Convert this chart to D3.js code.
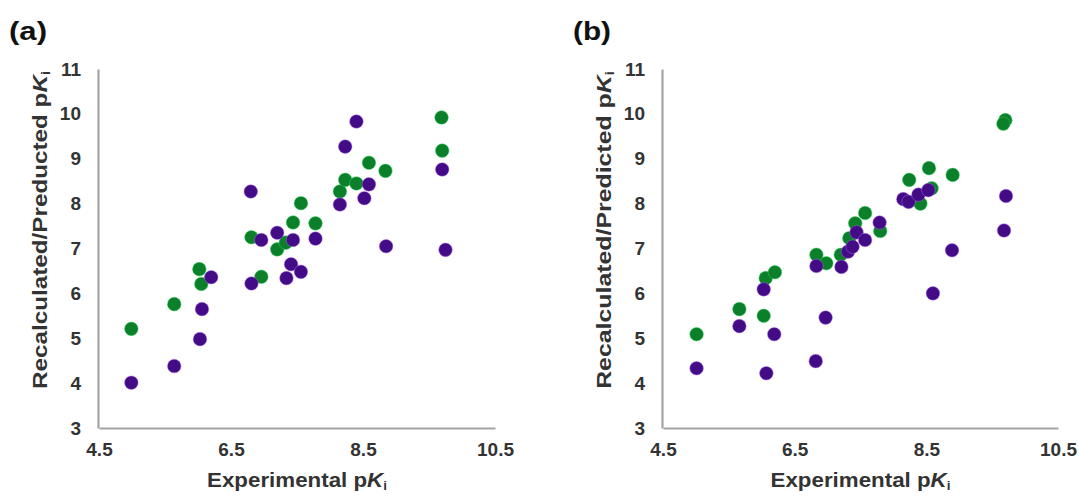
<!DOCTYPE html>
<html>
<head>
<meta charset="utf-8">
<script src="https://cdn.jsdelivr.net/npm/d3@7"></script>
<style>
  html, body { margin: 0; padding: 0; background: #fff; }
  svg { display: block; font-family: "Liberation Sans", Arial, sans-serif; }
</style>
</head>
<body>
<svg id="chart" width="1079" height="496"></svg>
<script>
// ---- data (Experimental pKi, Recalculated/Predicted pKi) ----
const xTicks = [4.5, 6.5, 8.5, 10.5];
const yTicks = [3, 4, 5, 6, 7, 8, 9, 10, 11];

const panelA_green = [
  [4.99, 5.21], [5.64, 5.76], [6.02, 6.54], [6.05, 6.21], [6.96, 6.37],
  [6.81, 7.25], [7.20, 6.98], [7.33, 7.13], [7.44, 7.58], [7.56, 8.01],
  [7.78, 7.56], [8.15, 8.27], [8.23, 8.53], [8.40, 8.45], [8.59, 8.91],
  [8.84, 8.73], [9.69, 9.92], [9.70, 9.18]
];
const panelA_purple = [
  [4.99, 4.01], [5.64, 4.38], [6.03, 4.98], [6.06, 5.65], [6.20, 6.36],
  [6.80, 8.27], [6.81, 6.22], [6.96, 7.19], [7.20, 7.35], [7.34, 6.34],
  [7.41, 6.65], [7.44, 7.19], [7.56, 6.48], [7.78, 7.22], [8.15, 7.98],
  [8.23, 9.27], [8.40, 9.83], [8.52, 8.12], [8.59, 8.43], [8.85, 7.05],
  [9.70, 8.76], [9.75, 6.97]
];
const panelB_green = [
  [5.01, 5.09], [5.66, 5.65], [6.03, 5.50], [6.06, 6.34], [6.20, 6.47],
  [6.83, 6.86], [6.98, 6.67], [7.20, 6.86], [7.33, 7.23], [7.42, 7.56],
  [7.57, 7.79], [7.80, 7.39], [8.24, 8.53], [8.54, 8.79], [8.90, 8.64],
  [8.58, 8.34], [8.41, 8.00], [9.70, 9.86], [9.67, 9.78]
];
const panelB_purple = [
  [5.01, 4.33], [5.66, 5.27], [6.03, 6.09], [6.07, 4.22], [6.19, 5.09],
  [6.82, 4.49], [6.97, 5.46], [6.83, 6.61], [7.21, 6.59], [7.31, 6.93],
  [7.38, 7.04], [7.44, 7.36], [7.57, 7.19], [7.79, 7.58], [8.15, 8.10],
  [8.23, 8.04], [8.38, 8.20], [8.53, 8.30], [8.60, 6.00], [8.89, 6.96],
  [9.71, 8.17], [9.68, 7.40]
];

const GREEN = "#0b7f2a";
const PURPLE = "#430c86";
const AXIS_GRAY = "#a3a3a3";
const TEXT = "#333333";

const svg = d3.select("#chart");

function fitWidth(sel, target) {
  const w = sel.node().getComputedTextLength();
  return target / w;
}

function drawPanel(cfg) {
  const x = d3.scaleLinear().domain([4.5, 10.5]).range([cfg.x0, cfg.x1]);
  const y = d3.scaleLinear().domain([3, 11]).range([428, 69]);

  const yAxis = d3.axisLeft(y).tickValues(yTicks).tickSize(0).tickPadding(17)
    .tickFormat(d3.format("d"));
  const xAxis = d3.axisBottom(x).tickValues(xTicks).tickSize(0).tickPadding(15)
    .tickFormat(d3.format(".1f"));

  const gy = svg.append("g").attr("transform", `translate(${cfg.x0 - 1},0)`).call(yAxis);
  const gx = svg.append("g").attr("transform", `translate(0,428)`).call(xAxis);
  [gx, gy].forEach(g => {
    g.select(".domain").attr("stroke", AXIS_GRAY).attr("stroke-width", 2.2);
    g.selectAll("text").attr("fill", TEXT).attr("font-size", 19)
      .attr("font-weight", "bold");
  });

  const pts = svg.append("g");
  pts.selectAll("circle.g").data(cfg.green).join("circle")
    .attr("class", "g")
    .attr("cx", d => x(d[0])).attr("cy", d => y(d[1])).attr("r", 6.8)
    .attr("fill", GREEN).attr("stroke", "#2fd85a").attr("stroke-opacity", 0.45).attr("stroke-width", 1);
  pts.selectAll("circle.p").data(cfg.purple).join("circle")
    .attr("class", "p")
    .attr("cx", d => x(d[0])).attr("cy", d => y(d[1])).attr("r", 6.8)
    .attr("fill", PURPLE).attr("stroke", "#b36cf0").attr("stroke-opacity", 0.45).attr("stroke-width", 1);

  // x-axis title
  const cx = (cfg.x0 + cfg.x1) / 2;
  const xt = svg.append("text").attr("font-size", 20).attr("font-weight", "bold")
    .attr("fill", TEXT).attr("text-anchor", "middle");
  xt.append("tspan").text("Experimental p");
  xt.append("tspan").attr("font-style", "italic").text("K");
  xt.append("tspan").attr("font-size", 12).attr("dy", 3).text("i");
  const sx = fitWidth(xt, 180);
  xt.attr("transform", `translate(${cx},487) scale(${sx},1)`);

  // y-axis title
  const yt = svg.append("text").attr("font-size", 20).attr("font-weight", "bold")
    .attr("fill", TEXT).attr("text-anchor", "middle");
  yt.append("tspan").text(cfg.ytitle);
  yt.append("tspan").attr("font-style", "italic").text("K");
  yt.append("tspan").attr("font-size", 12).attr("dy", 3).text("i");
  const sy = fitWidth(yt, 318);
  yt.attr("transform", `translate(${cfg.x0 - 52},230) rotate(-90) scale(${sy},1)`);

  // panel label
  const pl = svg.append("text").attr("font-size", 26).attr("font-weight", "bold")
    .attr("fill", "#111").text(cfg.label);
  const sp = fitWidth(pl, 38);
  pl.attr("transform", `translate(${cfg.labelX},40) scale(${sp},1)`);
}

drawPanel({ x0: 99, x1: 495, green: panelA_green, purple: panelA_purple,
  ytitle: "Recalculated/Preducted p", label: "(a)", labelX: 9 });
drawPanel({ x0: 663, x1: 1058, green: panelB_green, purple: panelB_purple,
  ytitle: "Recalculated/Predicted p", label: "(b)", labelX: 573 });
</script>
</body>
</html>
